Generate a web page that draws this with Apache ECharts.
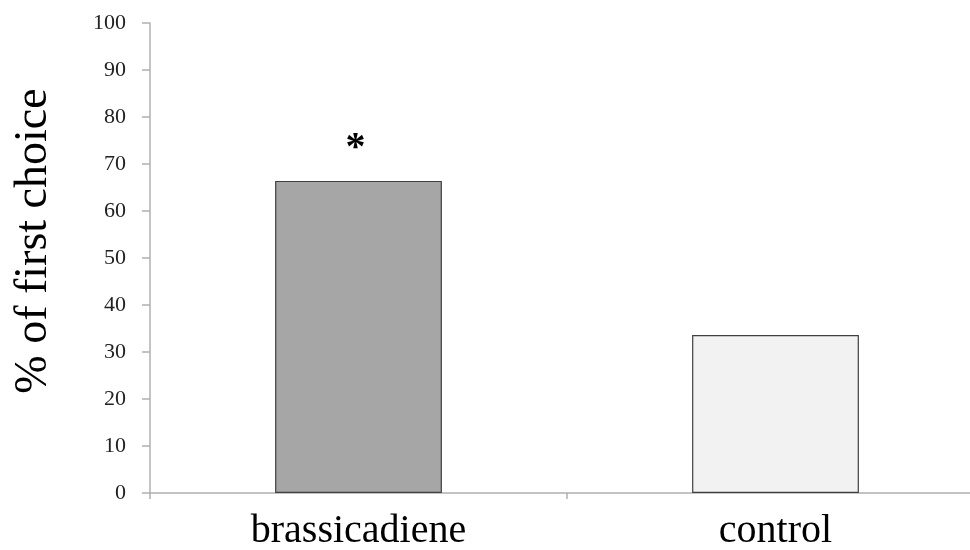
<!DOCTYPE html>
<html>
<head>
<meta charset="utf-8">
<script src="https://cdn.jsdelivr.net/npm/echarts@6/dist/echarts.min.js"></script>
<style>
  html, body { margin: 0; padding: 0; background: #fff; }
  #myChart { width: 970px; height: 550px; }
</style>
</head>
<body>
<div id="myChart"></div>
<script>
// data
var categories = ['brassicadiene', 'control'];
var firstChoice = [66.4, 33.6];
var signif = ['*', ''];
var barColors = ['#a6a6a6', '#f2f2f2'];

var serif = '"Liberation Serif", "DejaVu Serif", serif';

var myChart = echarts.init(document.getElementById('myChart'));

var option = {
  animation: false,
  backgroundColor: '#fff',
  grid: { left: 150, top: 23, width: 834, height: 470, outerBoundsMode: 'none', containLabel: false },
  xAxis: {
    type: 'category',
    data: categories,
    axisLine: { lineStyle: { color: '#b0b0b0', width: 1.5 } },
    axisTick: { show: true, length: 6, lineStyle: { color: '#b0b0b0', width: 1.5 } },
    axisLabel: { color: '#000', fontFamily: serif, fontSize: 40, margin: 18 }
  },
  yAxis: {
    type: 'value',
    min: 0,
    max: 100,
    interval: 10,
    name: '% of first choice',
    nameLocation: 'middle',
    nameGap: 93,
    nameTextStyle: { color: '#000', fontFamily: serif, fontSize: 46, padding: [0, 0, 0, 34] },
    axisLine: { show: true, lineStyle: { color: '#b0b0b0', width: 1.5 } },
    axisTick: { show: true, length: 8, lineStyle: { color: '#b0b0b0', width: 1.5 } },
    axisLabel: { color: '#222', fontFamily: serif, fontSize: 22, margin: 24 },
    splitLine: { show: false }
  },
  series: [{
    type: 'bar',
    barWidth: '40%',
    data: firstChoice.map(function (v, i) {
      return { value: v, itemStyle: { color: barColors[i] } };
    }),
    itemStyle: { borderColor: '#404040', borderWidth: 1.2 },
    label: {
      show: true,
      position: 'top',
      distance: 12,
      offset: [-3, 0],
      color: '#000',
      fontFamily: serif,
      fontSize: 40,
      fontWeight: 'bold',
      formatter: function (p) { return signif[p.dataIndex]; }
    }
  }]
};

myChart.setOption(option, true);
</script>
</body>
</html>
